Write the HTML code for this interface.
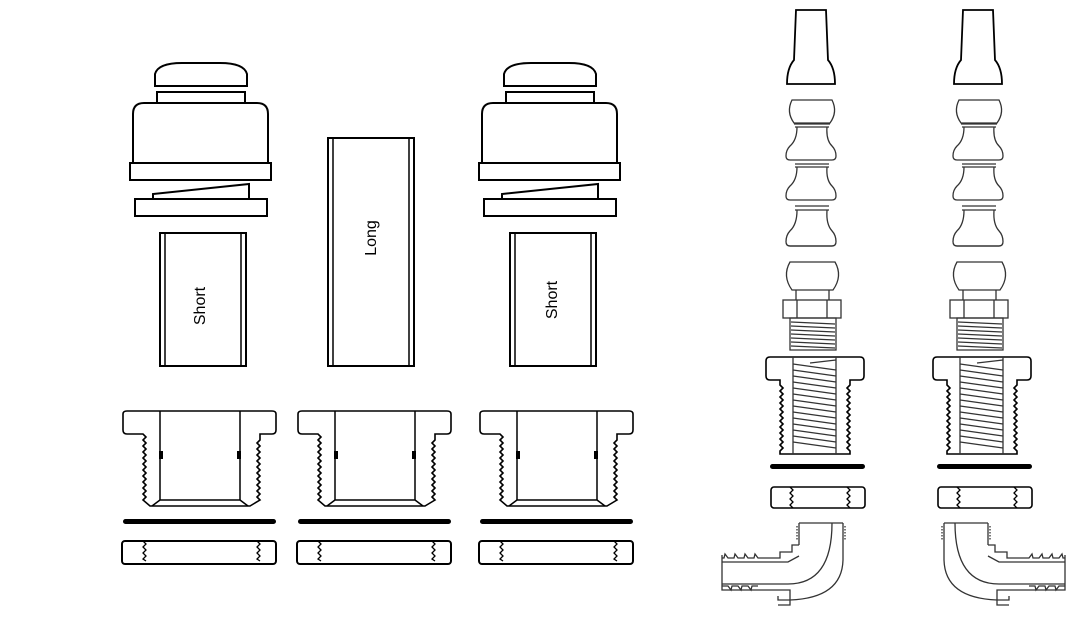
<!DOCTYPE html>
<html><head><meta charset="utf-8"><style>
html,body{margin:0;padding:0;background:#fff;}
svg{display:block}
text{font-family:"Liberation Sans",sans-serif;}
</style></head><body>
<svg width="1080" height="633" viewBox="0 0 1080 633" xmlns="http://www.w3.org/2000/svg">
<defs>
<g id="top" fill="none" stroke="#000" stroke-width="2">
  <path d="M155,86 L155,74 Q158,63 182,63 L220,63 Q244,63 247,74 L247,86 Z"/>
  <path d="M157,103 L157,92 L245,92 L245,103"/>
  <path d="M133,163 L133,114 Q133,103 144,103 L257,103 Q268,103 268,114 L268,163"/>
  <rect x="130" y="163" width="141" height="17"/>
  <path d="M153,198 L153,194 L249,184 L249,198"/>
  <rect x="135" y="199" width="132" height="17"/>
</g>
<g id="tube" fill="none" stroke="#000" stroke-width="2">
  <rect x="160" y="233" width="86" height="133"/>
  <line x1="165" y1="233" x2="165" y2="366" stroke-width="1.5"/>
  <line x1="241" y1="233" x2="241" y2="366" stroke-width="1.5"/>
</g>
<g id="bush" fill="none" stroke="#000" stroke-width="2">
  <path d="M143,434 L127,434 Q123,434 123,430 L123,414 Q123,411 127,411 L272,411 Q276,411 276,414 L276,430 Q276,434 272,434 L260,434
    L260,440 l-3,3 l3,3 l-3,3 l3,3 l-3,3 l3,3 l-3,3 l3,3 l-3,3 l3,3 l-3,3 l3,3 l-3,3 l3,3 l-3,3 l3,3 l-3,3 l3,3 l-3,3 l3,3 L260,500 L250,506 L150,506 L143,500
    l3,-3 l-3,-3 l3,-3 l-3,-3 l3,-3 l-3,-3 l3,-3 l-3,-3 l3,-3 l-3,-3 l3,-3 l-3,-3 l3,-3 l-3,-3 l3,-3 l-3,-3 l3,-3 l-3,-3 l3,-3 l-3,-3 l3,-3 Z" stroke-width="1.6"/>
  <line x1="160" y1="411" x2="160" y2="500" stroke-width="1.5"/>
  <line x1="240" y1="411" x2="240" y2="500" stroke-width="1.5"/>
  <path d="M160,500 L240,500 M160,500 L152,506 M240,500 L248,506" stroke-width="1.5"/>
  <rect x="160" y="452" width="2" height="6" fill="#000"/>
  <rect x="238" y="452" width="2" height="6" fill="#000"/>
  <rect x="123" y="519" width="153" height="5" rx="2.5" fill="#000" stroke="none"/>
  <rect x="122" y="541" width="154" height="23" rx="3"/>
  <path d="M143,541 l3,3 l-3,3 l3,3 l-3,3 l3,3 l-3,3 l3,2 M257,541 l3,3 l-3,3 l3,3 l-3,3 l3,3 l-3,3 l3,2" stroke-width="1.3"/>
</g>
<g id="seg">
  <path d="M797,127 Q797,140 790,146 Q786,150 786,156 Q786,160 790,160 L832,160 Q836,160 836,156 Q836,150 832,146 Q826,140 827,127"/>
</g>
<g id="colA" fill="none" stroke="#333" stroke-width="1.3">
  <path d="M796,10 L826,10 L828,60 Q835,68 835,84 L787,84 Q787,68 794,60 Z" stroke="#000" stroke-width="1.8"/>
  <path d="M792,100 L832,100 Q838,112 830,123 L794,123 Q786,112 792,100 Z"/>
  <path d="M794,124 L830,124 M795,127 L829,127"/>
  <use href="#seg"/>
  <path d="M795,164 L829,164 M795,167 L829,167"/>
  <use href="#seg" transform="translate(0,40)"/>
  <path d="M795,206 L829,206 M795,210 L829,210"/>
  <use href="#seg" transform="translate(0,84) scale(1,1.08) translate(0,-10)"/>
  <path d="M792,290 Q782,276 790,262 L835,262 Q843,276 833,290 Z"/>
  <path d="M796,290 L796,300 M829,290 L829,300"/>
  <rect x="783" y="300" width="58" height="18"/>
  <path d="M797,300 L797,318 M827,300 L827,318"/>
  <path d="M790,318 L836,318 L836,350 L790,350 Z"/>
  <path d="M791,322 L835,324 M791,326 L835,328 M791,330 L835,332 M791,334 L835,336 M791,338 L835,340 M791,342 L835,344 M791,346 L835,348"/>
  <path d="M780,380 L770,380 Q766,380 766,376 L766,361 Q766,357 770,357 L860,357 Q864,357 864,361 L864,376 Q864,380 860,380 L850,380
    L850,385 l-3,3 l3,3 l-3,3 l3,3 l-3,3 l3,3 l-3,3 l3,3 l-3,3 l3,3 l-3,3 l3,3 l-3,3 l3,3 l-3,3 l3,3 l-3,3 l3,3 l-3,3 l3,3 l-3,3 l3,3 L850,454 L780,454 L780,451
    l3,-3 l-3,-3 l3,-3 l-3,-3 l3,-3 l-3,-3 l3,-3 l-3,-3 l3,-3 l-3,-3 l3,-3 l-3,-3 l3,-3 l-3,-3 l3,-3 l-3,-3 l3,-3 l-3,-3 l3,-3 l-3,-3 l3,-3 l-3,-3 Z" stroke="#000" stroke-width="1.6"/>
  <path d="M793,357 L793,454 M836,357 L836,454"/>
  <path d="M793,364 L836,370 M793,370 L836,376 M793,376 L836,382 M793,382 L836,388 M793,388 L836,394 M793,394 L836,400 M793,400 L836,406 M793,406 L836,412 M793,412 L836,418 M793,418 L836,424 M793,424 L836,430 M793,430 L836,436 M793,436 L836,442 M793,442 L836,448 M810,363 L836,360"/>
  <rect x="770" y="464" width="95" height="5" rx="2.5" fill="#000" stroke="none"/>
  <rect x="771" y="487" width="94" height="21" rx="3" stroke="#000" stroke-width="1.6"/>
  <path d="M790,487 l3,3 l-3,3 l3,3 l-3,3 l3,3 l-3,3 l3,3 M847,487 l3,3 l-3,3 l3,3 l-3,3 l3,3 l-3,3 l3,3" stroke="#000"/>
</g>
<g id="elbow" fill="none" stroke="#333" stroke-width="1.3">
  <path d="M799,523 L843,523 M799,523 L799,545 M843,523 L843,560 Q842,598 790,600 L778,600 L778,596"/>
  <path d="M797,526 L797,540 M845,526 L845,540" stroke-dasharray="1.5 1.5"/>
  <path d="M799,545 L792,545 L792,552 L780,552 L780,558 L758,558 l-3,-4 l-1,4 l-6,0 l-3,-4 l-1,4 l-6,0 l-3,-4 l-1,4 l-6,0 l-3,-4 l-1,4 L722,558"/>
  <path d="M722,555 L722,590 L790,590 L790,605 L778,605"/>
  <path d="M722,586 l6,0 l3,4 l1,-4 l6,0 l3,4 l1,-4 l6,0 l3,4 l1,-4 l6,0"/>
  <path d="M722,562 L788,562 L799,556 M722,584 L788,584 Q832,584 832,523"/>
</g>
</defs>
<use href="#top"/>
<use href="#top" transform="translate(349,0)"/>
<use href="#tube"/>
<use href="#tube" transform="translate(350,0)"/>
<g fill="none" stroke="#000" stroke-width="2">
  <rect x="328" y="138" width="86" height="228"/>
  <line x1="333" y1="138" x2="333" y2="366" stroke-width="1.5"/>
  <line x1="409" y1="138" x2="409" y2="366" stroke-width="1.5"/>
</g>
<text x="0" y="0" font-size="16" text-anchor="middle" dominant-baseline="middle" transform="translate(201,306) rotate(-90)">Short</text>
<text x="0" y="0" font-size="16" text-anchor="middle" dominant-baseline="middle" transform="translate(553,300) rotate(-90)">Short</text>
<text x="0" y="0" font-size="16" text-anchor="middle" dominant-baseline="middle" transform="translate(372,238) rotate(-90)">Long</text>
<use href="#bush"/>
<use href="#bush" transform="translate(175,0)"/>
<use href="#bush" transform="translate(357,0)"/>
<use href="#colA"/>
<use href="#colA" transform="translate(167,0)"/>
<use href="#elbow"/>
<use href="#elbow" transform="translate(1787,0) scale(-1,1)"/>
</svg>
</body></html>
